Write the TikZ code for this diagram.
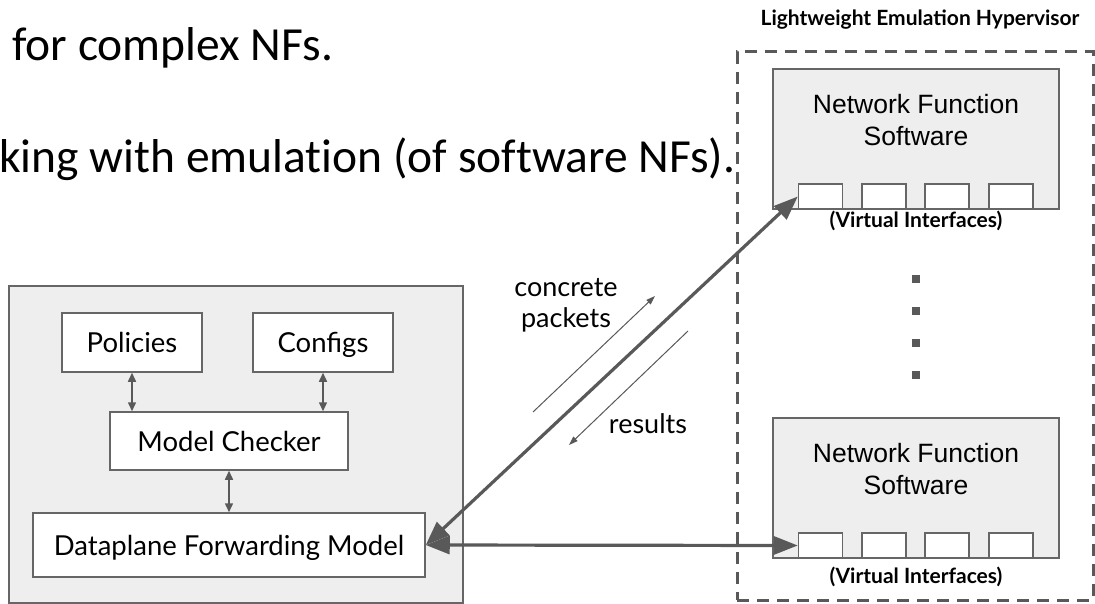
\documentclass[tikz,border=0pt]{standalone}
\usepackage{fontspec}
\setmainfont{Lato}
\newfontfamily\calibf[Ligatures=NoCommon]{Carlito}
\newfontfamily\arialf{Liberation Sans}
\usetikzlibrary{arrows.meta}
\definecolor{panelgray}{HTML}{EEEEEE}
\definecolor{linegray}{HTML}{595959}
\definecolor{bordergray}{HTML}{666666}
\tikzset{
  panel/.style={draw=bordergray, line width=1.5pt, fill=panelgray, inner sep=0pt},
  labelbox/.style={draw=bordergray, line width=1.5pt, fill=white, inner sep=0pt,
    text height=20pt, text depth=0pt, font=\fontsize{27.5}{32}\selectfont},
  iface/.style={draw=bordergray, line width=1.5pt, fill=white, inner sep=0pt,
    minimum width=44pt, minimum height=25pt},
  hyperbox/.style={draw=linegray, line width=3pt, dash pattern=on 12pt off 8pt, inner sep=0pt},
  dotsq/.style={fill=linegray, inner sep=0pt, minimum size=8pt},
  smallarrow/.style={draw=linegray, line width=1.5pt,
    {Triangle[length=9pt,width=8pt]}-{Triangle[length=9pt,width=8pt]}},
  bigarrow/.style={draw=linegray, line width=3.2pt,
    {Triangle[length=24pt,width=18pt]}-{Triangle[length=24pt,width=18pt]}},
  thinarrow/.style={draw=linegray, line width=1pt, -{Triangle[length=9pt,width=6pt]}},
  nftext/.style={align=center, inner sep=0pt, font=\arialf\fontsize{26.5}{32}\selectfont},
  smalllabel/.style={inner sep=0pt, font=\bfseries\fontsize{21}{25}\selectfont},
  midlabel/.style={inner sep=0pt, font=\fontsize{27}{31}\selectfont},
  slidetext/.style={inner sep=0pt, font=\calibf\fontsize{47.5}{56}\selectfont}
}
\begin{document}
\begin{tikzpicture}[x=1pt,y=-1pt]
\useasboundingbox (0,0) rectangle (1095,604);
\fill[white] (0,0) rectangle (1095,604);

% slide text
\node[slidetext, anchor=base west] (t1) at (12,61) {for complex NFs.};
\node[slidetext, anchor=base west] (t2) at (-1,173) {king with emulation (of software NFs).};

% left panel
\node[panel, minimum width=454pt, minimum height=317pt] (panel) at (236,444.5) {};
\node[labelbox, minimum width=140pt, minimum height=59pt] (pol) at (132,342.5) {Policies};
\node[labelbox, minimum width=140pt, minimum height=59pt] (cfg) at (323,342.5) {Configs};
\node[labelbox, minimum width=238pt, minimum height=58pt] (mc) at (229,441) {Model Checker};
\node[labelbox, minimum width=392pt, minimum height=64pt] (dfm) at (229,545) {Dataplane Forwarding Model};
\draw[smallarrow] (pol.south) -- (pol.south |- mc.north);
\draw[smallarrow] (cfg.south) -- (cfg.south |- mc.north);
\draw[smallarrow] (mc.south) -- (dfm.north);

% hypervisor
\node[smalllabel, anchor=base] (hvl) at (920,26) {Lightweight Emulation Hypervisor};
\node[hyperbox, minimum width=356pt, minimum height=548pt] (hv) at (915,326) {};

\node[panel, minimum width=286pt, minimum height=140pt] (nf1) at (916,139) {};
\node[nftext] (nf1t) at (916,120) {Network Function\\Software};
\node[iface] (i1a) at (820.5,196.5) {};
\node[iface] (i1b) at (884,196.5) {};
\node[iface] (i1c) at (947,196.5) {};
\node[iface] (i1d) at (1011,196.5) {};
\node[smalllabel, anchor=base] (vi1) at (916,228) {(Virtual Interfaces)};

\node[dotsq] (d1) at (916,279) {};
\node[dotsq] (d2) at (916,311) {};
\node[dotsq] (d3) at (916,343) {};
\node[dotsq] (d4) at (916,375) {};

\node[panel, minimum width=286pt, minimum height=140pt] (nf2) at (916,488) {};
\node[nftext] (nf2t) at (916,469) {Network Function\\Software};
\node[iface] (i2a) at (820.5,545.5) {};
\node[iface] (i2b) at (884,545.5) {};
\node[iface] (i2c) at (947,545.5) {};
\node[iface] (i2d) at (1011,545.5) {};
\node[smalllabel, anchor=base] (vi2) at (916,583) {(Virtual Interfaces)};

% middle labels and arrows
\node[midlabel, anchor=base] (conc) at (566,296) {concrete};
\node[midlabel, anchor=base] (pack) at (566,327) {packets};
\node[midlabel, anchor=base] (res) at (648,433) {results};
\coordinate (cpa) at (533,412);
\coordinate (cpb) at (655,296);
\coordinate (rsa) at (688,331);
\coordinate (rsb) at (569,445);
\draw[thinarrow] (cpa) -- (cpb);
\draw[thinarrow] (rsa) -- (rsb);

\draw[bigarrow] (dfm.east) -- (i1a.west);
\draw[bigarrow] (dfm.east) -- (i2a.west);
\end{tikzpicture}
\end{document}
